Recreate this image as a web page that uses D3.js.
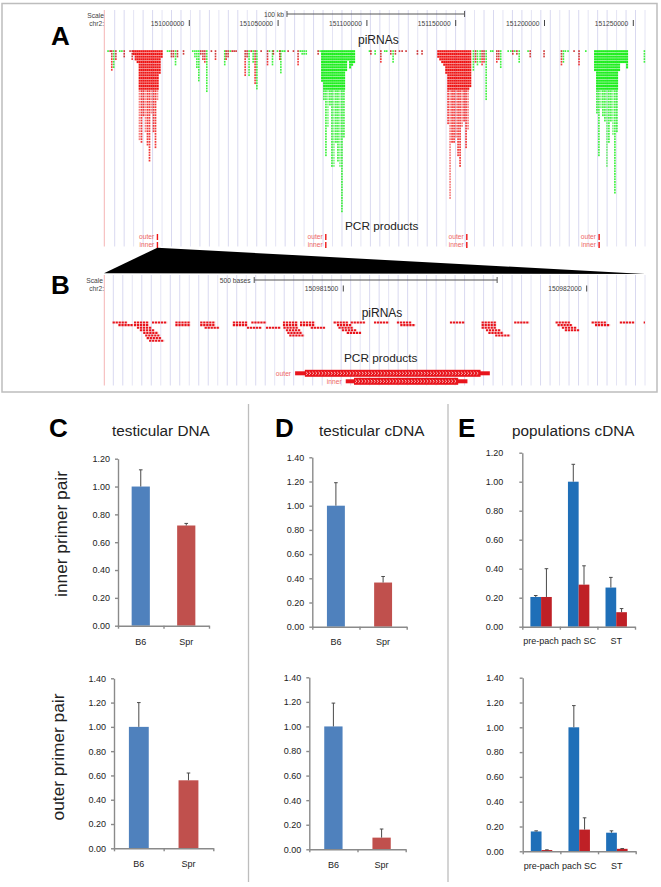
<!DOCTYPE html>
<html>
<head>
<meta charset="utf-8">
<script src="https://cdn.jsdelivr.net/npm/d3@7"></script>
<style>
  body { margin: 0; background: #fff; }
  svg { opacity: 0.999; }
  text { font-family: "Liberation Sans", Arial, sans-serif; }
  .axis path, .axis line { stroke: #8a8a8a; stroke-width: 1.4; }
  .axis text { font-size: 9px; fill: #222; font-family: "Liberation Sans", Arial, sans-serif; }
</style>
</head>
<body>
<svg id="fig" width="661" height="887"></svg>
<script>
// genome browser A, positions in kb after 151000000
var ticksA = [151000000, 151050000, 151100000, 151150000, 151200000, 151250000];
var pileRed1 = [2, 4, 5, 34, 35, 25, 31, 36, 42, 24, 31, 37, 19, 9, 3];
var pileGreen1 = [12, 19, 40, 29, 21, 44, 44, 35, 42, 44, 61, 33, 8, 4, 7, 6, 5];
var pileRed2 = [3, 4, 5, 6, 9, 28, 56, 35, 35, 33, 40, 44, 29, 27, 37, 30, 14];
var pileGreen2 = [8, 24, 40, 22, 25, 27, 44, 35, 27, 32, 54, 31, 8, 5, 5, 5, 7];
var smallRedKb = [-45.0, -44.1, -41.8, -37.1, -33.8, -32.6, -10.5, -9.4, -7.1, -3.7, 6.0, 7.2, 8.3, 12.0, 14.3, 20.3, 21.4, 23.7, 24.8, 25.9, 31.0, 32.1, 34.4, 36.6, 40.0, 43.6, 46.9, 50.5, 55.2, 58.2, 60.8, 72.1, 101.8, 107.4, 113.0, 115.6, 117.9, 119.4, 121.6, 128.0, 130.6, 160.7, 164.4, 165.5, 172.7, 173.8, 181.7, 184.0, 191.5, 199.3, 209.1, 216.2, 219.0];
var smallRedDepth = [1, 8, 4, 3, 1, 4, 3, 3, 3, 2, 2, 4, 5, 1, 4, 4, 3, 1, 1, 1, 10, 3, 1, 13, 1, 6, 2, 4, 1, 1, 6, 2, 2, 5, 2, 2, 1, 1, 1, 2, 2, 5, 6, 5, 5, 4, 2, 2, 3, 3, 6, 1, 6];
var smallGreenKb = [-46.2, -43.0, -39.6, -38.4, -12.7, -11.6, -8.2, 1.5, 2.7, 3.8, 4.9, 9.4, 19.5, 22.6, 33.2, 35.5, 37.6, 44.7, 46.4, 49.2, 51.1, 52.2, 53.3, 62.0, 63.1, 64.2, 65.4, 73.2, 101.0, 104.2, 109.6, 110.7, 114.3, 159.5, 161.8, 163.3, 166.7, 169.3, 170.4, 174.9, 179.1, 180.6, 182.8, 185.3, 190.3, 210.2, 211.3, 212.8, 222.8, 255.8];
var smallGreenDepth = [1, 7, 1, 1, 1, 1, 6, 1, 3, 7, 12, 16, 6, 1, 10, 5, 15, 1, 6, 1, 9, 1, 1, 1, 2, 2, 2, 1, 1, 2, 1, 1, 5, 8, 6, 5, 19, 1, 1, 7, 1, 1, 1, 5, 1, 5, 1, 1, 1, 5];
var primerKbA = [-18, 76.8, 156.2, 230.7];
var primerNames = ['outer', 'inner'];

// genome browser B, positions in bases after 150981500
var ticksB = [150981500, 150982000];
var readStarts = [-474, -430, -393, -345, -294, -227, -189, -124, -89, -20, 15, 63, 110, 219, 284, 351, 436, 510, 568, 617,
  -462, -430, -345, -294, -227, -124, -89, -13, 117, 284, 440, 517,
  -424, -285, -198, -159, -123, -67, -10, 284, 449,
  -418, -118, -3, 293, 455,
  -411, -115, 7, 298,
  -407, -111, 312,
  -404,
  -399];
var readRows = [0, 0, 0, 0, 0, 0, 0, 0, 0, 0, 0, 0, 0, 0, 0, 0, 0, 0, 0, 0,
  1, 1, 1, 1, 1, 1, 1, 1, 1, 1, 1, 1,
  2, 2, 2, 2, 2, 2, 2, 2, 2,
  3, 3, 3, 3, 3,
  4, 4, 4, 4,
  5, 5, 5,
  6,
  7];
var amplicons = ['outer', 'inner'];
var ampliconThin = [[-99, 301], [5, 255]];
var ampliconThick = [[-79, 282], [22, 236]];

// bar charts
var strains = ['B6', 'Spr'];
var cellTypes = ['pre-pach', 'pach SC', 'ST'];
var ticks120 = [0, 0.2, 0.4, 0.6, 0.8, 1, 1.2];
var ticks140 = [0, 0.2, 0.4, 0.6, 0.8, 1, 1.2, 1.4];
var cInner = [1, 0.72], cInnerTop = [1.12, 0.735];
var cOuter = [1, 0.56], cOuterTop = [1.2, 0.62];
var dInner = [1, 0.365], dInnerTop = [1.19, 0.415];
var dOuter = [1, 0.095], dOuterTop = [1.19, 0.165];
var eInnerB6 = [0.205, 1, 0.27], eInnerB6Top = [0.215, 1.12, 0.34];
var eInnerSpr = [0.205, 0.29, 0.1], eInnerSprTop = [0.4, 0.42, 0.125];
var eOuterB6 = [0.16, 1, 0.15], eOuterB6Top = [0.165, 1.175, 0.165];
var eOuterSpr = [0.01, 0.175, 0.02], eOuterSprTop = [0.012, 0.27, 0.022];

var svg = d3.select('#fig');
var red = '#ee1515', green = '#1fee1f';

svg.append('rect').attr('x', 2).attr('y', 3.5).attr('width', 655).attr('height', 388.5)
  .attr('fill', 'none').attr('stroke', '#bdbdbd').attr('stroke-width', 1.5);

var xA = d3.scaleLinear().domain([ticksA[0], ticksA[5]]).range([189.3, 633.3]);
var xB = d3.scaleLinear().domain([ticksB[0], ticksB[1]]).range([343.3, 586.7]);
var rowA = d3.scaleLinear().domain([0, 1]).range([50.2, 52.87]);
var rowB = d3.scaleLinear().domain([0, 1]).range([322.5, 325.1]);
function kb(k) { return xA(ticksA[0] + k * 1000); }
function bases(b) { return xB(ticksB[0] + b); }

function browserFrame(top, bottom, first) {
  svg.append('g').selectAll('line').data(d3.range(first, 646, (645 - first) / 56)).enter().append('line')
    .attr('x1', d => d).attr('x2', d => d).attr('y1', top).attr('y2', bottom)
    .attr('stroke', (d, i) => i % 3 == 2 ? '#e4e4f4' : '#d9d9f0').attr('stroke-width', 1);
  svg.append('line').attr('x1', 104.3).attr('x2', 104.3).attr('y1', top).attr('y2', bottom)
    .attr('stroke', '#f6b5b5').attr('stroke-width', 1);
}
browserFrame(10, 246.5, 114.7);
browserFrame(275, 385.5, 113.3);

function smallText(x, y, s, anchor, color) {
  svg.append('text').attr('x', x).attr('y', y).attr('text-anchor', anchor || 'end')
    .attr('font-size', 6.7).attr('fill', color || '#444').text(s);
}
function scaleBar(x1, x2, y) {
  var g = svg.append('g').attr('stroke', '#555').attr('stroke-width', 1);
  g.append('line').attr('x1', x1).attr('x2', x2).attr('y1', y).attr('y2', y);
  g.append('line').attr('x1', x1).attr('x2', x1).attr('y1', y - 3).attr('y2', y + 3);
  g.append('line').attr('x1', x2).attr('x2', x2).attr('y1', y - 3).attr('y2', y + 3);
}

// A header
smallText(104, 17.5, 'Scale');
smallText(104, 26, 'chr2:');
smallText(284, 17, '100 kb');
scaleBar(xA(151000000 + 55000), xA(151000000 + 155000), 14);
ticksA.forEach(function(t) {
  smallText(xA(t) - 5, 26, String(t));
  svg.append('line').attr('x1', xA(t)).attr('x2', xA(t)).attr('y1', 20).attr('y2', 26).attr('stroke', '#444');
});

// A reads, one rect per read
var readsA = [];
function addPile(depths, startKb, color) {
  depths.forEach(function(d, i) {
    d3.range(d).forEach(function(r) {
      readsA.push({ k: startKb + i * 1.126, row: r, color: color, deep: r > 14, fade: i % 3 == 0 ? 0.55 : 0.85 });
    });
  });
}
addPile(pileRed1, -31.9, red);
addPile(pileGreen1, 74.2, green);
addPile(pileRed2, 139.6, red);
addPile(pileGreen2, 227.9, green);
smallGreenKb.forEach(function(k, i) {
  d3.range(smallGreenDepth[i]).forEach(function(r) { readsA.push({ k: k, row: r, color: green, small: true }); });
});
smallRedKb.forEach(function(k, i) {
  d3.range(smallRedDepth[i]).forEach(function(r) { readsA.push({ k: k, row: r, color: r < 3 ? '#c81a1a' : red, small: true }); });
});
svg.append('g').selectAll('rect').data(readsA).enter().append('rect')
  .attr('x', d => kb(d.k))
  .attr('y', d => rowA(d.row))
  .attr('width', d => d.small ? 1.6 : (d.deep ? 1.7 : 2.05))
  .attr('height', d => d.small || d.deep ? 1.8 : 2.2)
  .attr('fill', d => d.color)
  .attr('opacity', d => d.small ? 0.85 : (d.deep ? d.fade : 1));

svg.append('text').attr('x', 358).attr('y', 44).attr('font-size', 12).attr('fill', '#222').text('piRNAs');
svg.append('text').attr('x', 345).attr('y', 230).attr('font-size', 11.8).attr('fill', '#222').text('PCR products');

// A primer pairs
primerKbA.forEach(function(k) {
  primerNames.forEach(function(name, i) {
    var y = 234 + i * 8;
    smallText(kb(k) - 3, y + 5, name, 'end', '#e66');
    svg.append('rect').attr('x', kb(k) - 0.6).attr('y', y).attr('width', 1.4).attr('height', 6).attr('fill', red);
  });
});

// zoom wedge from the primer site in A to the whole of B
svg.append('path')
  .attr('d', d3.line()([[kb(primerKbA[0]), 247.7], [104, 273.3], [645, 274]]) + 'Z')
  .attr('fill', '#000');

// B header
smallText(103, 283, 'Scale');
smallText(104, 291, 'chr2:');
smallText(250.7, 283, '500 bases');
scaleBar(bases(-183), bases(316), 280);
ticksB.forEach(function(t) {
  smallText(xB(t) - 5, 291, String(t));
  svg.append('line').attr('x1', xB(t)).attr('x2', xB(t)).attr('y1', 285.5).attr('y2', 291.5).attr('stroke', '#444');
});

// B reads
svg.append('clipPath').attr('id', 'clipB').append('rect').attr('x', 104).attr('y', 274).attr('width', 541).attr('height', 112);
svg.append('g').attr('clip-path', 'url(#clipB)').selectAll('line').data(readStarts).enter().append('line')
  .attr('x1', d => bases(d))
  .attr('x2', d => bases(d + 31))
  .attr('y1', (d, i) => rowB(readRows[i]))
  .attr('y2', (d, i) => rowB(readRows[i]))
  .attr('stroke', '#e8141c').attr('stroke-width', 2.1).attr('stroke-dasharray', '2.3,0.7');

svg.append('text').attr('x', 361.7).attr('y', 316.5).attr('font-size', 12).attr('fill', '#222').text('piRNAs');
svg.append('text').attr('x', 344).attr('y', 362).attr('font-size', 11.8).attr('fill', '#222').text('PCR products');

// B amplicons with direction chevrons
amplicons.forEach(function(name, i) {
  var y = 373.3 + i * 8;
  var g = svg.append('g');
  g.append('rect').attr('x', bases(ampliconThin[i][0])).attr('y', y - 2)
    .attr('width', bases(ampliconThin[i][1]) - bases(ampliconThin[i][0])).attr('height', 4).attr('fill', '#e8141c');
  g.append('rect').attr('x', bases(ampliconThick[i][0])).attr('y', y - 3.5)
    .attr('width', bases(ampliconThick[i][1]) - bases(ampliconThick[i][0])).attr('height', 7).attr('fill', '#e8141c');
  g.selectAll('path').data(d3.range(bases(ampliconThick[i][0]) + 2, bases(ampliconThick[i][1]) - 1, 3.1)).enter().append('path')
    .attr('d', d => 'M' + (d - 0.8) + ',' + (y - 1.5) + 'L' + (d + 0.8) + ',' + y + 'L' + (d - 0.8) + ',' + (y + 1.5))
    .attr('fill', 'none').attr('stroke', '#fff').attr('stroke-width', 0.7);
  smallText(bases(ampliconThin[i][0]) - 4, y + 2.5, name, 'end', '#e66');
});

// panel letters, titles, side labels
function panelLetter(x, y, s) {
  svg.append('text').attr('x', x).attr('y', y).attr('font-size', 26).attr('font-weight', 'bold').attr('fill', '#000').text(s);
}
panelLetter(51, 45, 'A');
panelLetter(51, 294, 'B');
panelLetter(49, 437, 'C');
panelLetter(275, 437, 'D');
panelLetter(458, 437, 'E');

function title(x, s) {
  svg.append('text').attr('x', x).attr('y', 435.5).attr('font-size', 15.3).attr('fill', '#222').text(s);
}
title(112, 'testicular DNA');
title(319, 'testicular cDNA');
title(512, 'populations cDNA');

function sideLabel(x, y, s) {
  svg.append('text').attr('transform', 'translate(' + x + ',' + y + ') rotate(-90)')
    .attr('text-anchor', 'middle').attr('font-size', 17.3).attr('fill', '#222').text(s);
}
sideLabel(66.5, 534, 'inner primer pair');
sideLabel(64, 757, 'outer primer pair');

[248.5, 448].forEach(function(x) {
  svg.append('line').attr('x1', x).attr('x2', x).attr('y1', 404).attr('y2', 882).attr('stroke', '#bdbdbd').attr('stroke-width', 1.3);
});

// bar charts
function barChart(o) {
  var chart = svg.append('g');
  var y = d3.scaleLinear().domain([0, d3.max(o.ticks)]).range([o.bottom, o.top]);
  var x = d3.scaleBand().domain(o.cats).range([o.left, o.right]).paddingInner(o.pad).paddingOuter(o.pad / 2);
  var inner = d3.scaleBand().domain(d3.range(o.series.length)).range([0, x.bandwidth()]);
  var edges = d3.scaleLinear().domain([0, o.cats.length]).range([o.left, o.right]);

  var bars = [];
  o.series.forEach(function(s, si) {
    s.values.forEach(function(v, i) {
      bars.push({ cat: o.cats[i], si: si, v: v, top: s.tops[i], color: s.colors[i % s.colors.length] });
    });
  });
  chart.selectAll('rect').data(bars).enter().append('rect')
    .attr('x', d => x(d.cat) + inner(d.si))
    .attr('y', d => y(d.v))
    .attr('width', inner.bandwidth())
    .attr('height', d => y(0) - y(d.v))
    .attr('fill', d => d.color);
  chart.selectAll('.err').data(bars).enter().append('path').attr('class', 'err')
    .attr('d', function(d) {
      var c = x(d.cat) + inner(d.si) + inner.bandwidth() / 2;
      return 'M' + c + ',' + y(d.v) + 'V' + y(d.top) + 'M' + (c - 1.8) + ',' + y(d.top) + 'H' + (c + 1.8);
    })
    .attr('fill', 'none').attr('stroke', '#4a4a4a').attr('stroke-width', 1);

  chart.append('g').attr('class', 'axis').attr('transform', 'translate(' + o.left + ',0)')
    .call(d3.axisLeft(y).tickValues(o.ticks).tickFormat(d3.format('.2f')).tickSize(3).tickSizeOuter(0).tickPadding(o.tickPad));
  chart.append('g').attr('class', 'axis').attr('transform', 'translate(0,' + o.bottom + ')')
    .call(d3.axisBottom(edges).tickValues(d3.range(o.cats.length + 1)).tickFormat('').tickSize(3).tickSizeOuter(0));
  chart.selectAll('.cat').data(o.cats).enter().append('text').attr('class', 'cat')
    .attr('x', d => x(d) + x.bandwidth() / 2)
    .attr('y', o.labelY)
    .attr('text-anchor', 'middle').attr('font-size', 9).attr('fill', '#222').text(d => d);
}

var strainColors = ['#4f81bd', '#c0504d'];
barChart({ left: 118, right: 209, top: 458.7, bottom: 625.7, ticks: ticks120, cats: strains, pad: 0.6, tickPad: 5, labelY: 645,
  series: [{ values: cInner, tops: cInnerTop, colors: strainColors }] });
barChart({ left: 114, right: 213.3, top: 678.3, bottom: 848.3, ticks: ticks140, cats: strains, pad: 0.6, tickPad: 5, labelY: 866.7,
  series: [{ values: cOuter, tops: cOuterTop, colors: strainColors }] });
barChart({ left: 312.3, right: 406.7, top: 457.3, bottom: 626.7, ticks: ticks140, cats: strains, pad: 0.62, tickPad: 5, labelY: 645,
  series: [{ values: dInner, tops: dInnerTop, colors: strainColors }] });
barChart({ left: 309.3, right: 405.7, top: 677.3, bottom: 849.3, ticks: ticks140, cats: strains, pad: 0.62, tickPad: 5, labelY: 868.3,
  series: [{ values: dOuter, tops: dOuterTop, colors: strainColors }] });
barChart({ left: 522.3, right: 635, top: 452.7, bottom: 626.7, ticks: ticks120, cats: cellTypes, pad: 0.43, tickPad: 16, labelY: 644,
  series: [{ values: eInnerB6, tops: eInnerB6Top, colors: ['#1f6fb8'] }, { values: eInnerSpr, tops: eInnerSprTop, colors: ['#bf2026'] }] });
barChart({ left: 522.7, right: 635.7, top: 677.7, bottom: 851.3, ticks: ticks140, cats: cellTypes, pad: 0.43, tickPad: 16, labelY: 869,
  series: [{ values: eOuterB6, tops: eOuterB6Top, colors: ['#1f6fb8'] }, { values: eOuterSpr, tops: eOuterSprTop, colors: ['#bf2026'] }] });
</script>
</body>
</html>
